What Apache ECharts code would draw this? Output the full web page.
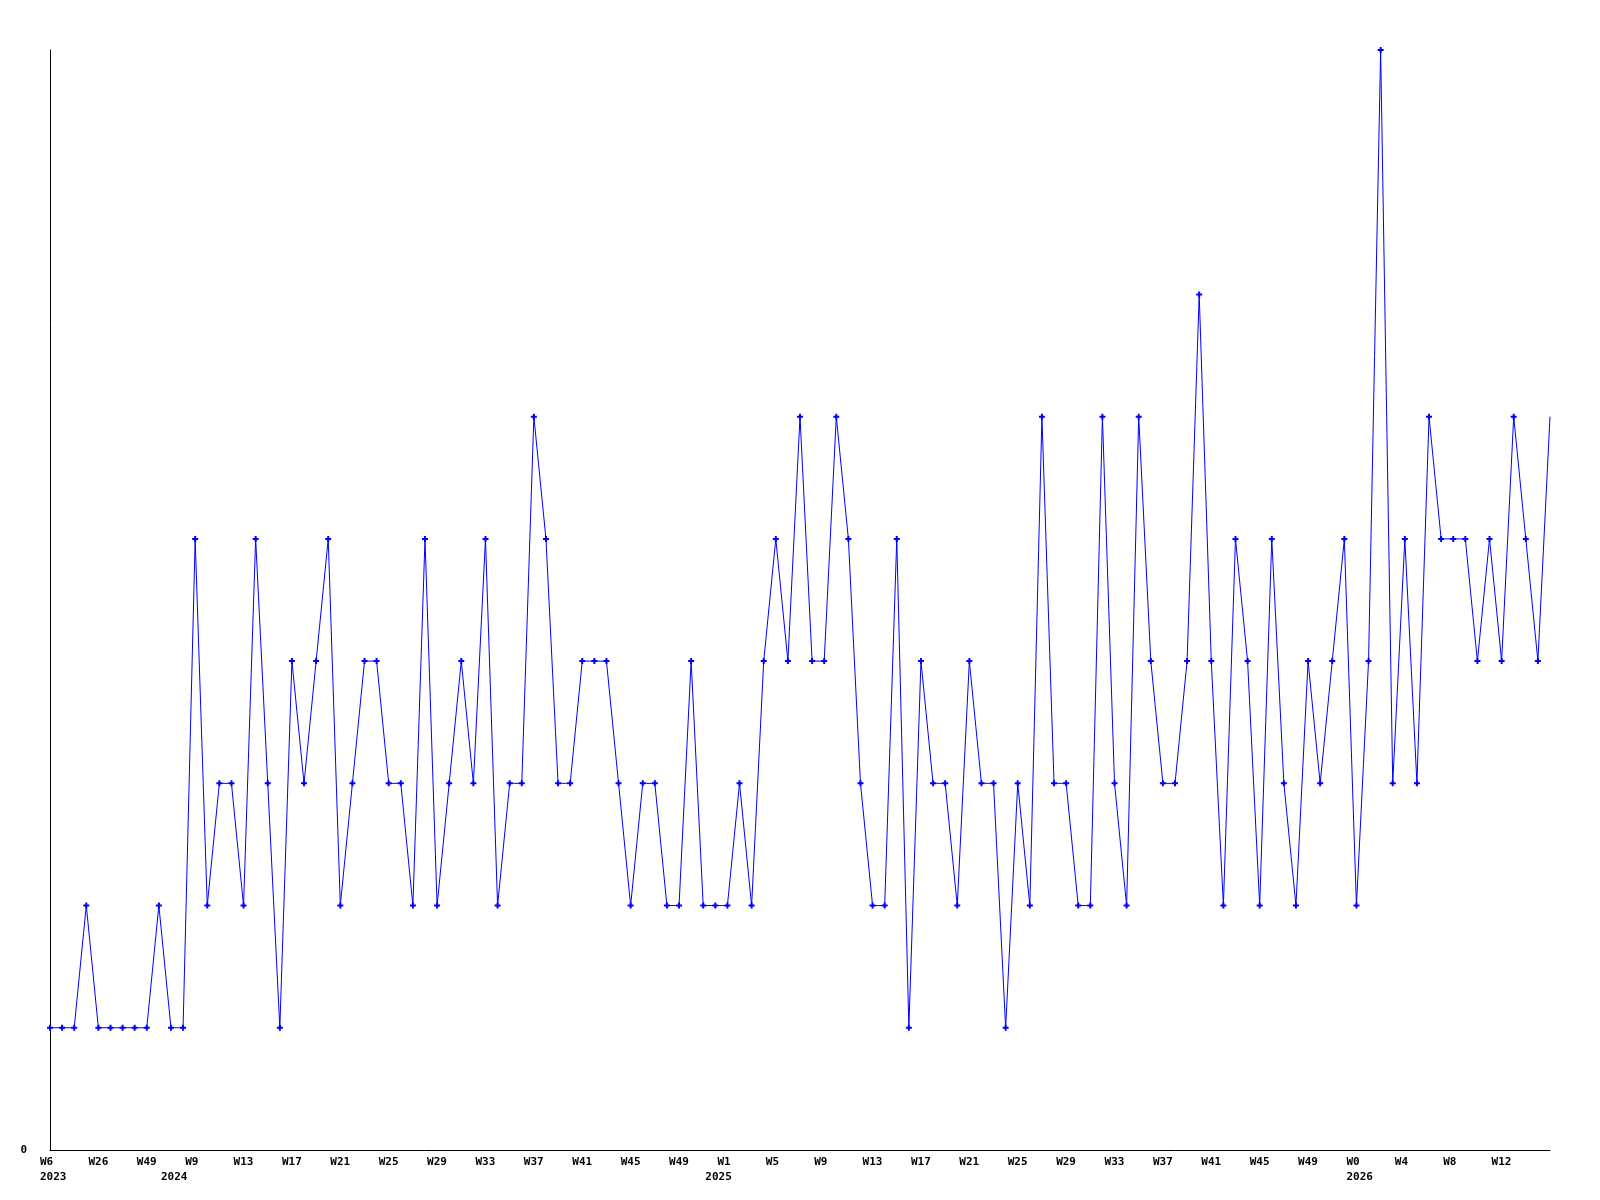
<!DOCTYPE html>
<html>
<head>
<meta charset="utf-8">
<script src="https://cdn.jsdelivr.net/npm/echarts@6/dist/echarts.min.js"></script>
<style>
  html, body { margin: 0; padding: 0; background: #ffffff; }
  #chart { width: 1600px; height: 1200px; }
</style>
</head>
<body>
<div id="chart"></div>
<script>
// ---- data ----
const weekLabels = [
  'W6','W11','W16','W21','W26','W32','W38','W43','W49','W52','W1','W5',
  'W9','W10','W11','W12','W13','W14','W15','W16','W17','W18','W19','W20',
  'W21','W22','W23','W24','W25','W26','W27','W28','W29','W30','W31','W32',
  'W33','W34','W35','W36','W37','W38','W39','W40','W41','W42','W43','W44',
  'W45','W46','W47','W48','W49','W50','W51','W52',
  'W1','W2','W3','W4','W5','W6','W7','W8','W9','W10','W11','W12',
  'W13','W14','W15','W16','W17','W18','W19','W20','W21','W22','W23','W24',
  'W25','W26','W27','W28','W29','W30','W31','W32','W33','W34','W35','W36',
  'W37','W38','W39','W40','W41','W42','W43','W44','W45','W46','W47','W48',
  'W49','W50','W51','W52',
  'W0','W1','W2','W3','W4','W5','W6','W7','W8','W9','W10','W11','W12',
  'W13','W14','W15','W16'
];
// positions (category index) where each year label is printed
const yearIndex = [0, 10, 55, 108];
const yearLabels = ['2023', '2024', '2025', '2026'];

const values = [
  1,1,1,2,1,1,1,1,1,2,1,1,
  5,2,3,3,2,5,3,1,4,3,4,5,
  2,3,4,4,3,3,2,5,2,3,4,3,
  5,2,3,3,6,5,3,3,4,4,4,3,
  2,3,3,2,2,4,2,2,2,3,2,4,
  5,4,6,4,4,6,5,3,2,2,5,1,
  4,3,3,2,4,3,3,1,3,2,6,3,
  3,2,2,6,3,2,6,4,3,3,4,7,
  4,2,5,4,2,5,3,2,4,3,4,5,
  2,4,9,3,5,3,6,5,5,5,4,5,
  4,6,5,4,6
];

const yMin = 0, yMax = 9;

// ---- chart ----
const chart = echarts.init(document.getElementById('chart'), null, { renderer: 'canvas' });

const labelFont = {
  fontFamily: 'DejaVu Sans Mono',
  fontWeight: 'bold',
  fontSize: 11,
  color: '#000000'
};

const lastIdx = values.length - 1;
const seriesData = values.map((v, i) => i === lastIdx ? { value: v, symbol: 'none' } : v);

function labelAxis(extraLabel) {
  return {
    type: 'category',
    gridIndex: 1,
    position: 'bottom',
    data: weekLabels,
    boundaryGap: false,
    axisLine: { show: false },
    axisTick: { show: false },
    splitLine: { show: false },
    axisLabel: Object.assign({
      show: true,
      align: 'left',
      verticalAlign: 'top',
      hideOverlap: false
    }, labelFont, extraLabel)
  };
}

const option = {
  animation: false,
  backgroundColor: '#ffffff',
  grid: [
    { left: 50, right: 50, top: 50, bottom: 50, containLabel: false },
    { left: 40, right: 60, top: 50, bottom: 50, containLabel: false }
  ],
  xAxis: [
    {
      type: 'category',
      gridIndex: 0,
      data: weekLabels,
      boundaryGap: false,
      axisLine: { show: true, lineStyle: { color: '#000000', width: 1 } },
      axisTick: { show: false },
      axisLabel: { show: false },
      splitLine: { show: false }
    },
    labelAxis({
      margin: 7,
      interval: (index) => index % 4 === 0 && index < lastIdx
    }),
    labelAxis({
      margin: 22,
      interval: (index) => yearIndex.indexOf(index) >= 0,
      formatter: (val, index) => {
        const k = yearIndex.indexOf(index);
        return k >= 0 ? yearLabels[k] : '';
      }
    })
  ],
  yAxis: [
    {
      type: 'value',
      gridIndex: 0,
      min: yMin,
      max: yMax,
      interval: 9,
      axisLine: { show: true, lineStyle: { color: '#000000', width: 1 } },
      axisTick: { show: false },
      splitLine: { show: false },
      axisLabel: Object.assign({
        show: true,
        margin: 23,
        formatter: (v) => v === 0 ? '0' : ''
      }, labelFont)
    },
    {
      type: 'value',
      gridIndex: 1,
      min: yMin,
      max: yMax,
      show: false
    }
  ],
  series: [
    {
      type: 'line',
      xAxisIndex: 0,
      yAxisIndex: 0,
      data: seriesData,
      symbol: 'path://M2,0H4V2H6V4H4V6H2V4H0V2H2Z',
      symbolSize: 6,
      showAllSymbol: true,
      lineStyle: { color: '#0000ff', width: 1 },
      itemStyle: { color: '#0000ff' },
      clip: false
    }
  ]
};

chart.setOption(option);
</script>
</body>
</html>
